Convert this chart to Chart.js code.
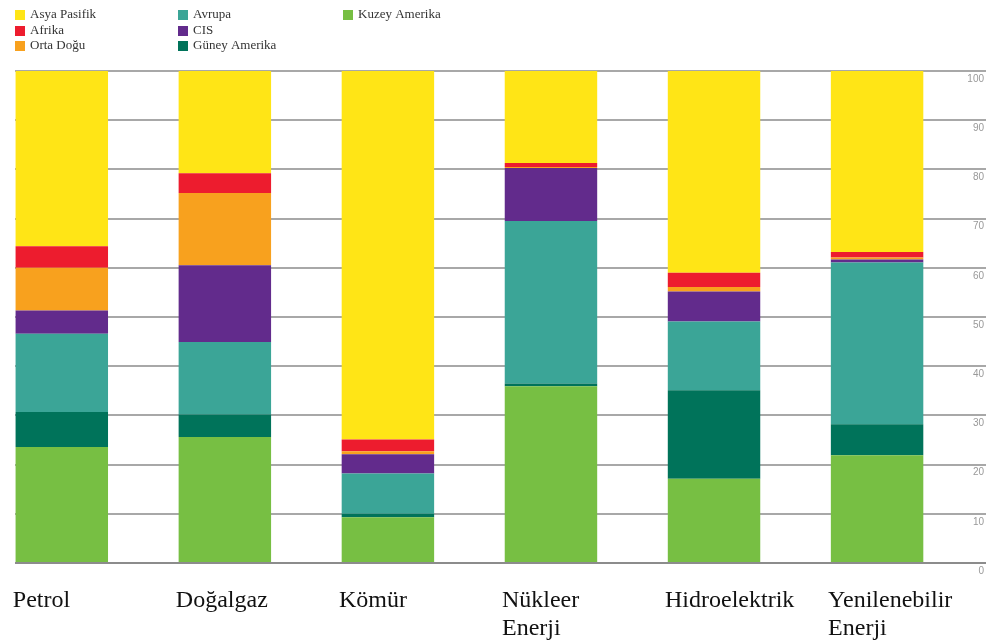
<!DOCTYPE html>
<html>
<head>
<meta charset="utf-8">
<script src="https://cdn.jsdelivr.net/npm/chart.js@4.4.1/dist/chart.umd.min.js"></script>
<style>
  html, body { margin: 0; padding: 0; background: #fff; }
  #wrap { width: 986px; height: 641px; }
</style>
</head>
<body>
<div id="wrap"><canvas id="energyChart"></canvas></div>
<script>
// --- Data (shares in %) ---
const categories = [['Petrol'], ['Doğalgaz'], ['Kömür'], ['Nükleer', 'Enerji'], ['Hidroelektrik'], ['Yenilenebilir', 'Enerji']];
const kuzeyAmerika = [23.6, 25.6, 9.3, 35.9, 17.1, 21.9];
const guneyAmerika = [7.1, 4.6, 0.7, 0.6, 18.0, 6.3];
const avrupa = [15.9, 14.7, 8.2, 33.0, 14.0, 32.9];
const cis = [4.7, 15.6, 3.9, 10.8, 6.1, 0.6];
const ortaDogu = [8.7, 14.7, 0.6, 0.2, 0.9, 0.4];
const afrika = [4.4, 4.0, 2.4, 0.8, 2.9, 1.1];
const asyaPasifik = [35.6, 20.8, 74.9, 18.7, 41.0, 36.8];
const yTicks = [0, 10, 20, 30, 40, 50, 60, 70, 80, 90, 100];

// legend is laid out column by column like the original
const legendColumns = [
    ['Asya Pasifik', 'Afrika', 'Orta Doğu'],
    ['Avrupa', 'CIS', 'Güney Amerika'],
    ['Kuzey Amerika']
];

const toPoints = (values) => values.map((v, i) => ({ x: i, y: v }));

// bottom-to-top stacking order
const series = [
    { label: 'Kuzey Amerika', data: kuzeyAmerika, color: '#77bf43' },
    { label: 'Güney Amerika', data: guneyAmerika, color: '#00735a' },
    { label: 'Avrupa', data: avrupa, color: '#3ba597' },
    { label: 'CIS', data: cis, color: '#622b8c' },
    { label: 'Orta Doğu', data: ortaDogu, color: '#f8a11e' },
    { label: 'Afrika', data: afrika, color: '#ed1c2e' },
    { label: 'Asya Pasifik', data: asyaPasifik, color: '#ffe516' }
];

// --- Column legend plugin ---
const columnLegend = {
    id: 'columnLegend',
    afterDraw(chart) {
        const ctx = chart.ctx;
        const colX = [15, 178, 343];
        const rowY = [15, 31, 46];
        ctx.save();
        ctx.font = '13px "Liberation Serif"';
        ctx.textBaseline = 'middle';
        ctx.textAlign = 'left';
        legendColumns.forEach((col, c) => {
            col.forEach((name, r) => {
                const ds = chart.data.datasets.find(d => d.label === name);
                ctx.fillStyle = ds.backgroundColor;
                ctx.fillRect(colX[c], rowY[r] - 5, 10, 10);
                ctx.fillStyle = '#333';
                ctx.fillText(name, colX[c] + 15, rowY[r]);
            });
        });
        ctx.restore();
    }
};

const ctx = document.getElementById('energyChart').getContext('2d');
new Chart(ctx, {
    type: 'bar',
    data: {
        datasets: series.map(s => ({
            label: s.label,
            data: toPoints(s.data),
            backgroundColor: s.color,
            borderWidth: 0,
            barPercentage: 0.567,
            categoryPercentage: 1
        }))
    },
    options: {
        responsive: true,
        maintainAspectRatio: false,
        animation: false,
        layout: { padding: { top: 71, left: 15, right: 0, bottom: 0 } },
        plugins: { legend: { display: false }, tooltip: { enabled: false } },
        scales: {
            x: {
                type: 'linear',
                stacked: true,
                offset: false,
                min: -0.287,
                max: 5.668,
                grid: { display: false, offset: false },
                border: { display: false },
                afterBuildTicks: (axis) => { axis.ticks = categories.map((c, i) => ({ value: i })); },
                afterFit: (axis) => { axis.height = 78; axis.paddingLeft = 0; axis.paddingRight = 0; },
                ticks: {
                    autoSkip: false,
                    maxRotation: 0,
                    align: 'start',
                    labelOffset: -49,
                    padding: 15,
                    color: '#111',
                    font: { family: 'Liberation Serif', size: 24, lineHeight: 1.2 },
                    callback: (value) => categories[value]
                }
            },
            y: {
                position: 'right',
                stacked: true,
                min: 0,
                max: 100,
                afterBuildTicks: (axis) => { axis.ticks = yTicks.map(v => ({ value: v })); },
                afterFit: (axis) => { axis.width = 0; axis.paddingTop = 0; axis.paddingBottom = 0; },
                grid: {
                    drawTicks: false,
                    lineWidth: 2,
                    color: (c) => c.tick && c.tick.value === 0 ? '#8c8c8c' : '#a8a8a8'
                },
                border: { display: false },
                ticks: {
                    mirror: true,
                    padding: -2,
                    labelOffset: 8,
                    color: '#999',
                    font: { family: 'Liberation Sans', size: 10 }
                }
            }
        }
    },
    plugins: [columnLegend]
});
</script>
</body>
</html>
